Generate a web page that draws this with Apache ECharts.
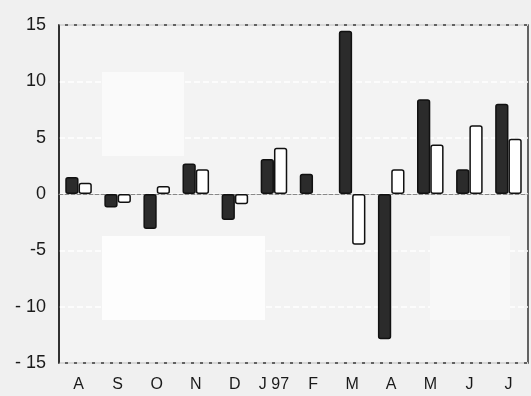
<!DOCTYPE html>
<html>
<head>
<meta charset="utf-8">
<script src="https://cdn.jsdelivr.net/npm/echarts@6/dist/echarts.min.js"></script>
<style>
html,body{margin:0;padding:0;background:#f1f1f1;}
#c{width:531px;height:396px;}
</style>
</head>
<body>
<div id="c"></div>
<script>
const categories = ['A','S','O','N','D','J 97','F','M','A','M','J','J'];
const darkSeries = [1.5, -1.2, -3.1, 2.7, -2.3, 3.1, 1.8, 14.5, -12.9, 8.4, 2.2, 8.0];
const whiteSeries = [1.0, -0.8, 0.7, 2.2, -0.9, 4.1, null, -4.5, 2.2, 4.4, 6.1, 4.9];
const yTicks = {15:'15',10:'10',5:'5',0:'0','-5':'-5','-10':'- 10','-15':'- 15'};

const chart = echarts.init(document.getElementById('c'));
chart.setOption({
  backgroundColor: '#f0f0f0',
  animation: false,
  graphic: [
    {type: 'rect', z: 1, shape: {x: 102, y: 236, width: 163, height: 84}, style: {fill: '#fdfdfd'}},
    {type: 'rect', z: 1, shape: {x: 102, y: 72, width: 82, height: 84}, style: {fill: '#fafafa'}},
    {type: 'rect', z: 1, shape: {x: 430, y: 236, width: 80, height: 84}, style: {fill: '#f8f8f8'}}
  ],
  grid: {left: 59, top: 25, right: 3, bottom: 33, show: true,
         backgroundColor: '#f3f3f3', borderColor: '#333', borderWidth: 1.5},
  xAxis: {
    type: 'category', data: categories,
    axisLine: {onZero: true, lineStyle: {color: '#888', type: 'dashed', width: 1}},
    axisTick: {show: false},
    axisLabel: {interval: 0, color: '#1a1a1a', fontSize: 16, fontFamily: 'Liberation Sans, Arial', margin: 14}
  },
  yAxis: {
    type: 'value', min: -15, max: 15, interval: 5,
    axisLine: {show: true, lineStyle: {color: '#222', width: 1.5}},
    axisTick: {show: false},
    splitLine: {show: true, lineStyle: {color: '#ffffff', type: 'dashed', width: 1.5}},
    axisLabel: {color: '#1a1a1a', fontSize: 18, fontFamily: 'Liberation Sans, Arial', margin: 13,
      padding: [0, 0, 10, 0],
      formatter: function(v){ return yTicks[v] !== undefined ? yTicks[v] : v; }}
  },
  series: [
    {type: 'bar', z: 3, data: darkSeries, barGap: '0%', barCategoryGap: '32%',
     itemStyle: {color: '#2b2b2b', borderColor: '#111', borderWidth: 1.5, borderRadius: 2}},
    {type: 'bar', z: 3, data: whiteSeries, barGap: '0%', barCategoryGap: '32%',
     itemStyle: {color: '#ffffff', borderColor: '#111', borderWidth: 1.5, borderRadius: 2}}
  ]
});
</script>
</body>
</html>
